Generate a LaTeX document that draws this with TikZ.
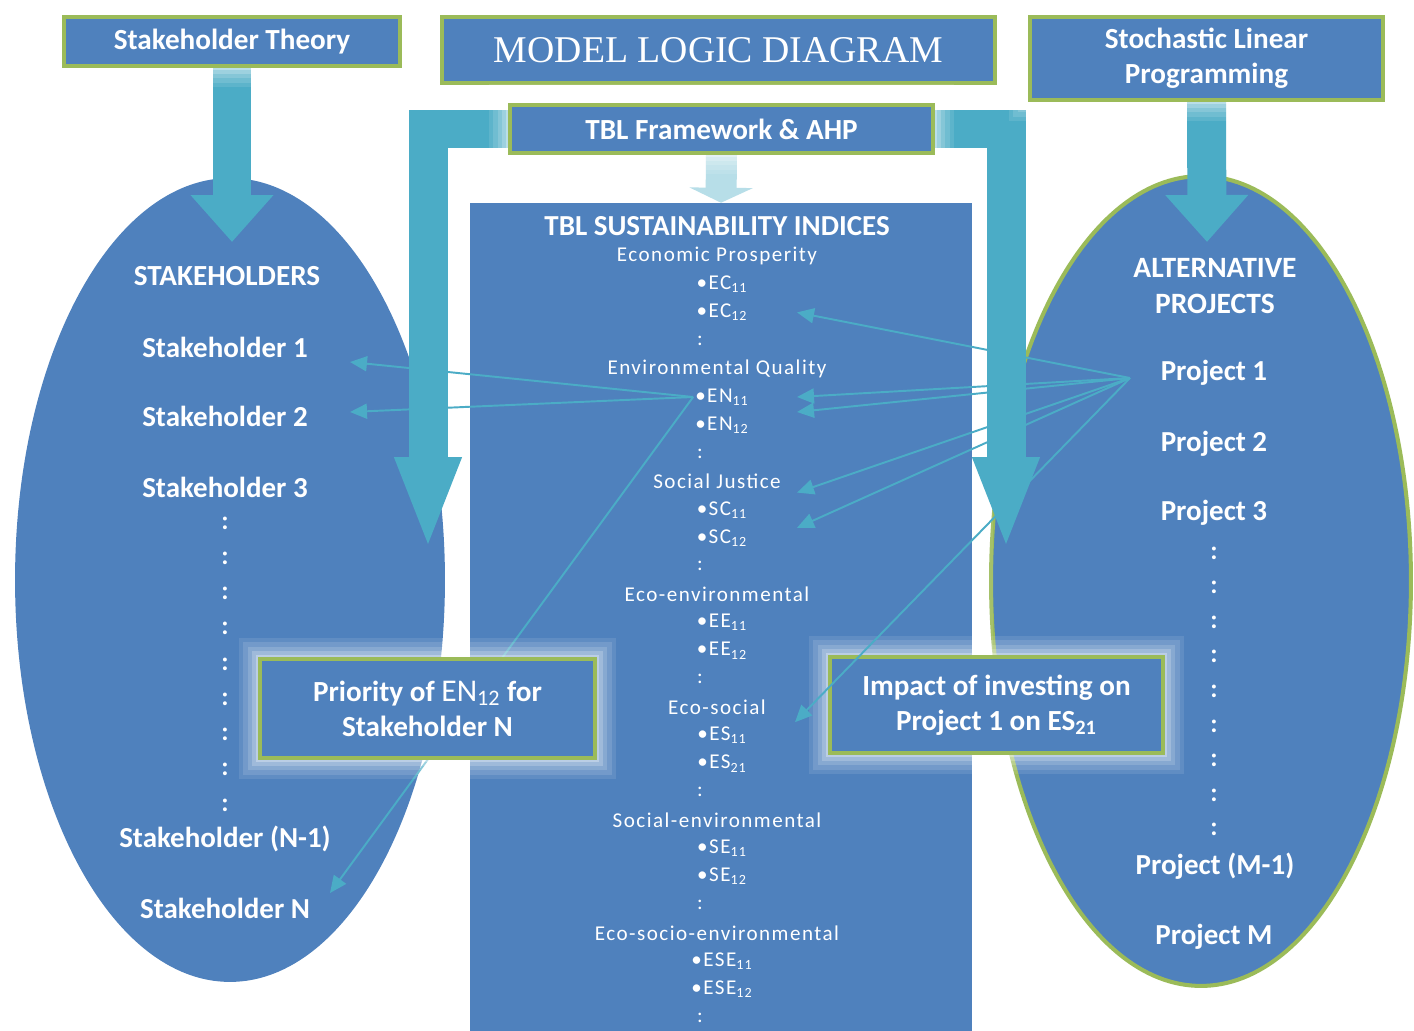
\documentclass[tikz,border=0pt]{standalone}
\usepackage{fontspec}
\setmainfont{Carlito}
\newfontfamily\titlefont{Liberation Serif}
\usetikzlibrary{arrows.meta,shapes.geometric,calc}
\pgfdeclarelayer{back}
\pgfdeclarelayer{mid}
\pgfsetlayers{back,mid,main}

\definecolor{boxblue}{RGB}{79,129,189}
\definecolor{boxgreen}{RGB}{155,187,89}
\definecolor{arrowcyan}{RGB}{75,172,198}

\tikzset{
	glow/.style={preaction={draw=white,opacity=.1,line width=24pt},
		preaction={draw=white,opacity=.12,line width=19pt},
		preaction={draw=white,opacity=.15,line width=14pt},
		preaction={draw=white,opacity=.2,line width=9pt},
		preaction={draw=white,opacity=.3,line width=5pt}},
	labelbox/.style={glow,draw=boxgreen,line width=2.3pt,fill=boxblue,text=white,
		font=\bfseries\fontsize{16.6}{20}\selectfont,align=center,inner sep=0pt},
	elltext/.style={text=white,font=\bfseries\fontsize{16.5}{18}\selectfont,inner sep=1pt},
	listtext/.style={text=white,font=\fontsize{12}{13}\selectfont\addfontfeature{LetterSpace=7},inner sep=1pt},
	colon/.style={text=white,font=\bfseries\fontsize{15}{16}\selectfont,inner sep=0pt},
	bigarrow/.style={arrowcyan,line width=0.78cm,-{Triangle[length=0.94cm,width=1.6cm]}},
	uarrow/.style={arrowcyan,line width=0.78cm,line join=miter,
		{Triangle[length=1.86cm,width=1.2cm]}-{Triangle[length=1.86cm,width=1.2cm]}},
	smallarrow/.style={arrowcyan!40,line width=0.62cm,-{Triangle[length=0.3cm,width=1.26cm]}},
	link/.style={arrowcyan,line width=1.1pt,-{Triangle[length=0.34cm,width=0.3cm]}}
}

\begin{document}
\begin{tikzpicture}[x=0.02cm,y=-0.02cm]
	\useasboundingbox (0,0) rectangle (1414,1031);
	
	% ellipses and index panel
	\begin{pgfonlayer}{back}
		\fill[white] (0,0) rectangle (1414,1031);
		\node[ellipse,glow,fill=boxblue,minimum width=8.6cm,minimum height=16.08cm,inner sep=0pt] (stkEll) at (230,580) {};
		\node[ellipse,glow,fill=boxblue,draw=boxgreen,line width=2.3pt,minimum width=8.4cm,minimum height=16.2cm,inner sep=0pt] (prjEll) at (1201,581) {};
		\node[glow,fill=boxblue,minimum width=10.04cm,minimum height=16.56cm,inner sep=0pt] (indices) at (721,617) {};
	\end{pgfonlayer}
	
	% index list
	\node[text=white,font=\bfseries\fontsize{16.5}{18}\selectfont] (head) at (717,226) {TBL SUSTAINABILITY INDICES};
	\foreach \dx/\t [count=\i from 0] in {717/Economic Prosperity, 722/•EC\textsubscript{11}, 722/•EC\textsubscript{12}, 700/:,
		717/Environmental Quality, 722/•EN\textsubscript{11}, 722/•EN\textsubscript{12}, 700/:,
		717/Social Justice, 722/•SC\textsubscript{11}, 722/•SC\textsubscript{12}, 700/:,
		717/Eco-environmental, 722/•EE\textsubscript{11}, 722/•EE\textsubscript{12}, 700/:,
		717/Eco-social, 722/•ES\textsubscript{11}, 722/•ES\textsubscript{21}, 700/:,
		717/Social-environmental, 722/•SE\textsubscript{11}, 722/•SE\textsubscript{12}, 700/:,
		717/Eco-socio-environmental, 722/•ESE\textsubscript{11}, 722/•ESE\textsubscript{12}, 700/:}
		\node[listtext] (idx\i) at (\dx,{256+28.2*\i}) {\t};
	
	% stakeholders
	\node[elltext,font=\bfseries\fontsize{16.6}{18}\selectfont] (stkHead) at (227,276) {STAKEHOLDERS};
	\node[elltext] (sh1) at (225,347) {Stakeholder 1};
	\node[elltext] (sh2) at (225,416) {Stakeholder 2};
	\node[elltext] (sh3) at (225,487) {Stakeholder 3};
	\foreach \k in {0,...,8}
		\node[colon] (lc\k) at (225,{523+35.25*\k}) {:};
	\node[elltext] (shNm) at (225,839) {Stakeholder (N-1)};
	\node[elltext] (shN) at (225,908) {Stakeholder N};
	
	% projects
	\node[elltext,font=\bfseries\fontsize{16.8}{21}\selectfont,align=center] (prjHead) at (1215,286) {ALTERNATIVE\\PROJECTS};
	\node[elltext] (p1) at (1214,373) {Project 1};
	\node[elltext] (p2) at (1214,444) {Project 2};
	\node[elltext] (p3) at (1214,513) {Project 3};
	\foreach \k in {0,...,8}
		\node[colon] (rc\k) at (1214,{553+34.6*\k}) {:};
	\node[elltext] (pMm) at (1215,866) {Project (M-1)};
	\node[elltext] (pM) at (1214,937) {Project M};
	
	% priority links
	\begin{pgfonlayer}{back}
		\draw[link] (idx5.west) -- ($(sh1)+(125,15)$);
		\draw[link] (idx5.west) -- ($(sh2)+(125,-4)$);
		\draw[link] (idx5.west) -- ($(shN)+(105,-15)$);
	\end{pgfonlayer}
	
	% boxes
	\node[labelbox,minimum width=6.72cm,minimum height=0.98cm] (theory) at (232,41.5) {Stakeholder Theory};
	\node[labelbox,minimum width=11.06cm,minimum height=1.32cm,font=\titlefont\fontsize{21.5}{24}\selectfont] (title) at (718.5,50) {MODEL LOGIC DIAGRAM};
	\node[labelbox,minimum width=7.06cm,minimum height=1.66cm] (slp) at (1206.5,58.5) {Stochastic Linear\\Programming};
	\node[labelbox,minimum width=8.46cm,minimum height=0.96cm] (tbl) at (721.5,129) {TBL Framework \& AHP};
	\node[labelbox,minimum width=6.7cm,minimum height=1.98cm] (priority) at (427.5,708.5)
		{Priority of {\mdseries\fontsize{18}{20}\selectfont EN\textsubscript{12}} for\\Stakeholder N};
	\node[labelbox,minimum width=6.66cm,minimum height=1.92cm] (impact) at (996.5,705)
		{Impact of investing on\\Project 1 on ES\textsubscript{21}};
	
	% block arrows
	\coordinate (stkTip) at (232,242);
	\coordinate (prjTip) at (1207,242);
	\coordinate (leftTip) at (428,550);
	\coordinate (rightTip) at (1006,550);
	\begin{pgfonlayer}{mid}
		\draw[bigarrow] (theory.south) -- (stkTip);
		\draw[bigarrow] (slp.south) -- (prjTip);
		\draw[uarrow] (leftTip) |- (tbl.center) -| (rightTip);
		\draw[smallarrow] (tbl.south) -- (indices.north);
	\end{pgfonlayer}
	
	% impact links
	\coordinate (hub) at ($(p1)+(-84,5)$);
	\draw[link] (hub) -- ($(idx2)+(75,0)$);
	\draw[link] (hub) -- ($(idx5)+(75,0)$);
	\draw[link] (hub) -- ($(idx5)+(75,15)$);
	\draw[link] (hub) -- ($(idx8)+(80,11)$);
	\draw[link] (hub) -- ($(idx9)+(75,18)$);
	\draw[link] (hub) -- ($(idx16)+(78,15)$);
\end{tikzpicture}
\end{document}
